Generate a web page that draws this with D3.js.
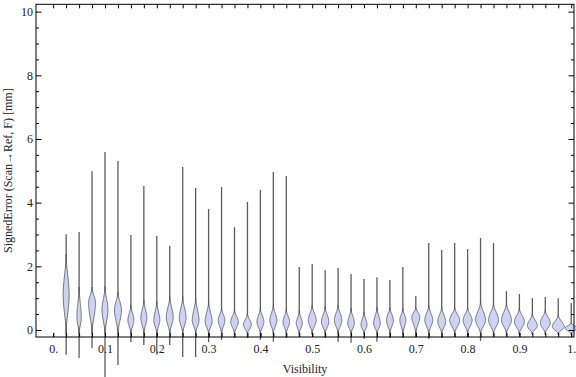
<!DOCTYPE html>
<html><head><meta charset="utf-8">
<script src="https://cdn.jsdelivr.net/npm/d3@7"></script>
<style>body{margin:0;background:#fff} svg{display:block}</style>
</head><body><svg id="c" width="576" height="377"></svg>
<script>
// ---- data ----
const visibility = [0.025,0.05,0.075,0.1,0.125,0.15,0.175,0.2,0.225,0.25,
  0.275,0.3,0.325,0.35,0.375,0.4,0.425,0.45,0.475,0.5,
  0.525,0.55,0.575,0.6,0.625,0.65,0.675,0.7,0.725,0.75,
  0.775,0.8,0.825,0.85,0.875,0.9,0.925,0.95,0.975,1.0];
const maxError = [3.01,3.08,4.99,5.59,5.31,2.98,4.52,2.95,2.64,5.12,
  4.46,3.80,4.49,3.23,4.02,4.40,4.96,4.84,1.98,2.07,
  1.88,1.95,1.76,1.60,1.66,1.57,1.98,1.07,2.73,2.51,
  2.73,2.54,2.89,2.73,1.22,1.13,1.00,1.04,1.00,0.85];
const minError = [-0.78,-0.88,-0.57,-1.50,-1.10,-0.38,-0.47,-0.78,-0.47,-0.85,
  -0.85,-0.38,-0.31,-0.25,-0.25,-0.31,-0.37,-0.25,-0.21,-0.16,
  -0.25,-0.37,-0.40,-0.28,-0.37,-0.25,-0.25,-0.22,-0.28,-0.25,
  -0.22,-0.22,-0.34,-0.21,-0.21,-0.16,-0.16,-0.16,-0.16,-0.16];
const bodyTop = [2.38,1.35,1.35,1.36,1.20,0.78,0.94,0.89,1.05,1.05,
  1.00,0.89,0.69,0.63,0.52,0.69,0.78,0.65,0.60,0.78,
  0.73,0.78,0.68,0.57,0.71,0.71,0.68,0.71,0.78,0.73,
  0.71,0.71,0.89,0.84,0.84,0.68,0.52,0.63,0.47,0.22];
const bodyPeak = [1.10,0.40,0.85,0.63,0.63,0.31,0.38,0.31,0.40,0.38,
  0.31,0.26,0.31,0.26,0.16,0.26,0.31,0.26,0.21,0.31,
  0.26,0.31,0.21,0.16,0.21,0.31,0.31,0.42,0.31,0.26,
  0.31,0.31,0.31,0.31,0.31,0.26,0.13,0.22,0.10,0.06];
const bodyDensity = [0.50,0.37,0.58,0.50,0.58,0.50,0.50,0.50,0.58,0.56,
  0.56,0.58,0.55,0.64,0.66,0.58,0.58,0.55,0.50,0.66,
  0.62,0.62,0.55,0.50,0.55,0.58,0.50,0.66,0.66,0.66,
  0.83,0.75,0.83,0.83,0.83,0.83,0.83,0.83,1.00,1.00];
const bodyBottom = -0.12;
const xTickValues = [0,0.1,0.2,0.3,0.4,0.5,0.6,0.7,0.8,0.9,1.0];
const xTickLabels = ["0.","0.1","0.2","0.3","0.4","0.5","0.6","0.7","0.8","0.9","1."];
const xMinorTicks = [0].concat(visibility);
const yTickValues = [0,2,4,6,8,10];
const yMinorTicks = [0.5,1,1.5,2.5,3,3.5,4.5,5,5.5,6.5,7,7.5,8.5,9,9.5];

// ---- layout ----
const L = 36, R = 574, T = 4.3, B = 337;
const x = d3.scaleLinear().domain([-0.0332, 1.0054]).range([L, R]);
const y = d3.scaleLinear().domain([-0.22, 10.23]).range([B, T]);
const w = d3.scaleLinear().domain([0, 1]).range([0, 6]);

const svg = d3.select("#c");
const font = "'Liberation Serif','Times New Roman',serif";

// violins
const g = svg.append("g");
function smooth(t){ t = Math.max(0, Math.min(1, t)); return t*t*(3-2*t); }
visibility.forEach((v, i) => {
  const cx = x(v);
  g.append("line")
    .attr("x1", cx).attr("x2", cx)
    .attr("y1", y(minError[i])).attr("y2", y(maxError[i]))
    .attr("stroke", "#4a4a4a").attr("stroke-width", 1.3).attr("stroke-opacity", 0.9);
  const lo = bodyBottom, hi = bodyTop[i], pk = bodyPeak[i], hw = w(bodyDensity[i]);
  const n = 48;
  const pts = d3.range(n + 1).map(k => {
    const val = lo + (hi - lo) * k / n;
    const f = val <= pk ? smooth((val - lo) / (pk - lo)) : smooth((hi - val) / (hi - pk));
    return {val, half: hw * f};
  });
  const area = d3.area()
    .y(d => y(d.val))
    .x0(d => cx - d.half)
    .x1(d => cx + d.half)
    .curve(d3.curveBasis);
  g.append("path").attr("d", area(pts))
    .attr("fill", "#cdd3f3").attr("stroke", "#555").attr("stroke-width", 0.8);
});

// frame
svg.append("rect").attr("x", L).attr("y", T).attr("width", R - L).attr("height", B - T)
  .attr("fill", "none").attr("stroke", "#000").attr("stroke-width", 1);

function styleAxis(sel){
  sel.select(".domain").remove();
  sel.selectAll("line").attr("stroke", "#000");
  sel.selectAll("text").attr("font-family", font).attr("font-size", 12).attr("fill", "#222");
}
// bottom
svg.append("g").attr("transform", `translate(0,${B})`)
  .call(d3.axisBottom(x).tickValues(xMinorTicks).tickSize(-4).tickFormat(""))
  .call(styleAxis);
svg.append("g").attr("transform", `translate(0,${B})`)
  .call(d3.axisBottom(x).tickValues(xTickValues).tickSize(-4).tickPadding(7)
    .tickFormat((d, i) => xTickLabels[i]))
  .call(styleAxis);
// top
svg.append("g").attr("transform", `translate(0,${T})`)
  .call(d3.axisTop(x).tickValues(xMinorTicks).tickSize(-4).tickFormat(""))
  .call(styleAxis);
// left
svg.append("g").attr("transform", `translate(${L},0)`)
  .call(d3.axisLeft(y).tickValues(yTickValues).tickSize(-5.5).tickPadding(3).tickFormat(d3.format("d")))
  .call(styleAxis);
svg.append("g").attr("transform", `translate(${L},0)`)
  .call(d3.axisLeft(y).tickValues(yMinorTicks).tickSize(-3).tickFormat(""))
  .call(styleAxis);
// right
svg.append("g").attr("transform", `translate(${R},0)`)
  .call(d3.axisRight(y).tickValues(yTickValues).tickSize(-5.5).tickFormat(""))
  .call(styleAxis);
svg.append("g").attr("transform", `translate(${R},0)`)
  .call(d3.axisRight(y).tickValues(yMinorTicks).tickSize(-3).tickFormat(""))
  .call(styleAxis);

// titles
svg.append("text").attr("x", (L + R) / 2).attr("y", 373)
  .attr("text-anchor", "middle").attr("font-family", font).attr("font-size", 12).attr("fill", "#222")
  .text("Visibility");
svg.append("text").attr("transform", `translate(11.5,${(T + B) / 2}) rotate(-90)`)
  .attr("text-anchor", "middle").attr("font-family", font).attr("font-size", 12).attr("fill", "#222")
  .text("SignedError (Scan\u2192Ref, F) [mm]");
</script></body></html>
